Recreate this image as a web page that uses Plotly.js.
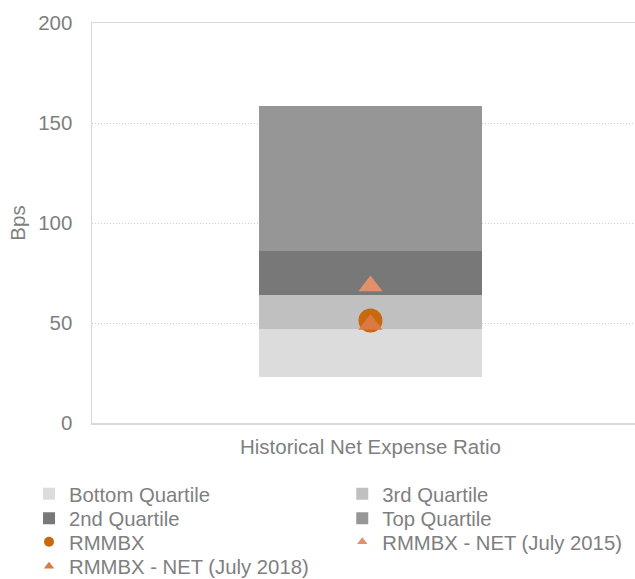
<!DOCTYPE html>
<html><head><meta charset="utf-8">
<script src="https://cdn.plot.ly/plotly-3.0.1.min.js"></script>
<style>html,body{margin:0;padding:0;background:#fff;}#chart{width:635px;height:579px;}</style>
</head><body><div id="chart"></div>
<script>
// ---- data ----
const categories = ['Historical Net Expense Ratio'];
const baseOffset = [23];        // invisible floor of the stacked bar
const bottomQuartile = [24];    // 23 -> 47
const thirdQuartile = [17];     // 47 -> 64
const secondQuartile = [22];    // 64 -> 86
const topQuartile = [72.5];     // 86 -> 158.5
const rmmbx = [51.2];
const net2015 = [68.5];
const net2018 = [49.2];
const yTicks = [0, 50, 100, 150, 200];

const FONT = 'Liberation Sans, Arial, sans-serif';
const TXT = '#7f7f7f';
const FS = 20.5;
const LFS = 20.3;

const C = {
  bottom: '#dcdcdc', third: '#c0c0c0', second: '#787878', top: '#969696',
  rmmbx: '#c8680f', n2015: '#e2906a', n2018: '#da7a42'
};

const barW = 0.4;
function bar(name, y, color, legend) {
  return {type: 'bar', name: name, x: categories, y: y, width: barW,
    marker: {color: color}, legend: legend, hoverinfo: 'name+y'};
}

const traces = [
  {type: 'bar', name: 'base', x: categories, y: baseOffset, width: barW,
   marker: {color: 'rgba(0,0,0,0)'}, showlegend: false, hoverinfo: 'skip'},
  bar('Bottom Quartile', bottomQuartile, C.bottom, 'legend'),
  bar('3rd Quartile', thirdQuartile, C.third, 'legend2'),
  bar('2nd Quartile', secondQuartile, C.second, 'legend3'),
  bar('Top Quartile', topQuartile, C.top, 'legend4'),
  {type: 'scatter', mode: 'markers', name: 'RMMBX', x: categories, y: rmmbx,
   marker: {symbol: 'circle', size: 24, color: C.rmmbx}, showlegend: false, legendgroup: 'a'},
  {type: 'scatter', mode: 'markers', name: 'RMMBX - NET (July 2015)', x: categories, y: net2015,
   marker: {symbol: 'triangle-up', size: 21, color: C.n2015}, showlegend: false, legendgroup: 'b'},
  {type: 'scatter', mode: 'markers', name: 'RMMBX - NET (July 2018)', x: categories, y: net2018,
   marker: {symbol: 'triangle-up', size: 21, color: C.n2018}, showlegend: false, legendgroup: 'c'},
  // legend-only entries (no marks) so legend symbols are small like the reference
  {type: 'scatter', mode: 'markers', name: 'RMMBX', x: [null], y: [null],
   marker: {symbol: 'circle', size: 10, color: C.rmmbx}, legend: 'legend5', legendgroup: 'a', hoverinfo: 'skip'},
  {type: 'scatter', mode: 'markers', name: 'RMMBX - NET (July 2015)', x: [null], y: [null],
   marker: {symbol: 'triangle-up', size: 9, color: C.n2015}, legend: 'legend6', legendgroup: 'b', hoverinfo: 'skip'},
  {type: 'scatter', mode: 'markers', name: 'RMMBX - NET (July 2018)', x: [null], y: [null],
   marker: {symbol: 'triangle-up', size: 9, color: C.n2018}, legend: 'legend7', legendgroup: 'c', hoverinfo: 'skip'}
];

const COL1 = 0.0457, COL2 = 0.539;
const ROW = [0.1468, 0.1045, 0.0639, 0.0216];
function leg(x, y) {
  return {orientation: 'h', xref: 'container', x: x, xanchor: 'left',
    yref: 'container', y: y, yanchor: 'middle',
    font: {family: FONT, size: LFS, color: TXT},
    bgcolor: 'rgba(0,0,0,0)', borderwidth: 0, itemclick: false, itemdoubleclick: false};
}

const layout = {
  width: 635, height: 579,
  margin: {l: 92, r: 0, t: 23, b: 156, pad: 0},
  paper_bgcolor: '#ffffff', plot_bgcolor: '#ffffff',
  barmode: 'stack',
  font: {family: FONT, size: FS, color: TXT},
  xaxis: {type: 'category', range: [-0.5, 0.475], showgrid: false, zeroline: false,
    showline: true, mirror: true, linecolor: '#d9d9d9', linewidth: 1.5,
    ticks: '', ticklabelstandoff: 5, tickfont: {family: FONT, size: FS, color: TXT},
    automargin: false, fixedrange: true},
  yaxis: {range: [0, 200], tickvals: yTicks, ticktext: yTicks.map(String),
    showgrid: true, gridcolor: '#cfcfcf', griddash: '1px,2px', gridwidth: 1,
    zeroline: false, showline: true, linecolor: '#d9d9d9', linewidth: 1.5,
    ticks: '', ticklabelstandoff: 14, tickfont: {family: FONT, size: FS, color: TXT},
    title: {text: 'Bps', font: {family: FONT, size: FS, color: TXT}, standoff: 7},
    automargin: false, fixedrange: true},
  legend: leg(COL1, ROW[0]),
  legend2: leg(COL2, ROW[0]),
  legend3: leg(COL1, ROW[1]),
  legend4: leg(COL2, ROW[1]),
  legend5: leg(COL1, ROW[2]),
  legend6: leg(COL2, ROW[2]),
  legend7: leg(COL1, ROW[3]),
  showlegend: true
};

Plotly.newPlot('chart', traces, layout, {displayModeBar: false, staticPlot: true});
</script>
</body></html>
